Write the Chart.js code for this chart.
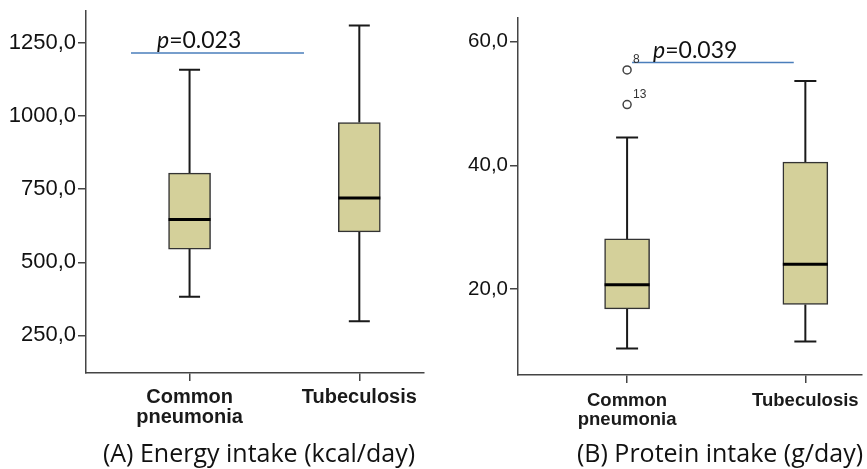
<!DOCTYPE html>
<html>
<head>
    <title>Energy and protein intake</title>
    <style>
        body { margin: 0; background: #fff; width: 867px; height: 469px; position: relative; overflow: hidden; }
        .panel { position: absolute; top: 0; height: 469px; }
        #panelA { left: 0; width: 433px; }
        #panelB { left: 440px; width: 427px; }
        .caption {
            position: absolute; top: 438px; font-family: "Open Sans", Lato, sans-serif;
            font-size: 25px; line-height: 29px; color: #111; white-space: nowrap;
            transform: translateX(-50%);
        }
    </style>
    <script src="https://cdn.jsdelivr.net/npm/chart.js"></script>
</head>
<body>
    <div class="panel" id="panelA"><canvas id="energyChart"></canvas></div>
    <div class="panel" id="panelB"><canvas id="proteinChart"></canvas></div>
    <div class="caption" style="left:259px">(A) Energy intake (kcal/day)</div>
    <div class="caption" style="left:720px">(B) Protein intake (g/day)</div>

<script>
    // data
    const categories = ["Common pneumonia", "Tubeculosis"];

    const energyMin    = [382, 298];
    const energyQ1     = [545, 604];
    const energyMedian = [646, 720];
    const energyQ3     = [805, 978];
    const energyMax    = [1159, 1310];
    const energyTicks  = [250, 500, 750, 1000, 1250];
    const energyPValue = "0.023";
    const energyPLevel = 1216;
    const energyPSpan  = [0.655, 1.674];

    const proteinMin    = [10.4, 11.5];
    const proteinQ1     = [16.8, 17.5];
    const proteinMedian = [20.7, 24.0];
    const proteinQ3     = [28.1, 40.5];
    const proteinMax    = [44.5, 53.6];
    const proteinOutlierValues = [55.4, 49.8];   // both in Common pneumonia
    const proteinOutlierCases  = ["8", "13"];
    const proteinTicks  = [20, 40, 60];
    const proteinPValue = "0.039";
    const proteinPLevel = 56.6;
    const proteinPSpan  = [1.028, 1.935];

    const boxFill = "#d4d09a";
    const darkLine = "#333";

    function boxPlugin(p) {
        return {
            id: "boxWhiskers",
            beforeDatasetsDraw(chart) {
                const { ctx, scales: { x, y } } = chart;
                ctx.save();
                ctx.strokeStyle = "#1a1a1a";
                ctx.lineWidth = 2;
                p.min.forEach((mn, i) => {
                    const px = x.getPixelForValue(i + 1);
                    ctx.beginPath();
                    ctx.moveTo(px, y.getPixelForValue(mn));
                    ctx.lineTo(px, y.getPixelForValue(p.q1[i]));
                    ctx.moveTo(px, y.getPixelForValue(p.q3[i]));
                    ctx.lineTo(px, y.getPixelForValue(p.max[i]));
                    [mn, p.max[i]].forEach(v => {
                        const py = y.getPixelForValue(v);
                        ctx.moveTo(px - p.cap / 2, py);
                        ctx.lineTo(px + p.cap / 2, py);
                    });
                    ctx.stroke();
                });
                ctx.restore();
            },
            afterDatasetsDraw(chart) {
                const { ctx, scales: { x, y } } = chart;
                ctx.save();
                // medians
                ctx.strokeStyle = "#000";
                ctx.lineWidth = 3;
                p.median.forEach((m, i) => {
                    const px = x.getPixelForValue(i + 1);
                    const py = y.getPixelForValue(m);
                    ctx.beginPath();
                    ctx.moveTo(px - p.box / 2, py);
                    ctx.lineTo(px + p.box / 2, py);
                    ctx.stroke();
                });
                // outlier case numbers
                ctx.fillStyle = "#333";
                ctx.font = "12px 'Liberation Sans'";
                ctx.textBaseline = "middle";
                (p.outliers || []).forEach((v, i) => {
                    ctx.fillText(p.cases[i], x.getPixelForValue(1) + 6, y.getPixelForValue(v) - 10);
                });
                // p value text over the line
                const tx = x.getPixelForValue(p.pSpan[0]) + p.pOffset;
                const ty = y.getPixelForValue(p.pLevel) - 5;
                ctx.textBaseline = "alphabetic";
                ctx.fillStyle = "#111";
                ctx.font = "italic 23px Lato";
                ctx.fillText("p", tx, ty);
                const w = ctx.measureText("p").width;
                ctx.font = "23px Lato";
                ctx.fillText("=" + p.pValue, tx + w, ty);
                ctx.restore();
            }
        };
    }

    function makeChart(id, p) {
        const datasets = [{
            type: "bar",
            data: p.q1.map((q, i) => ({ x: i + 1, y: [q, p.q3[i]] })),
            backgroundColor: boxFill,
            borderColor: darkLine,
            borderWidth: 1.5,
            borderSkipped: false,
            barThickness: p.box
        }, {
            type: "line",
            data: p.pSpan.map(v => ({ x: v, y: p.pLevel })),
            borderColor: "#4a7ebb",
            borderWidth: 1.5,
            pointRadius: 0
        }];
        if (p.outliers) {
            datasets.push({
                type: "scatter",
                data: p.outliers.map(v => ({ x: 1, y: v })),
                backgroundColor: "#fff",
                borderColor: "#444",
                borderWidth: 1.5,
                pointRadius: 4
            });
        }
        return new Chart(document.getElementById(id), {
            data: { datasets },
            options: {
                responsive: true,
                maintainAspectRatio: false,
                animation: false,
                layout: { padding: p.padding },
                plugins: { legend: { display: false }, tooltip: { enabled: false } },
                scales: {
                    x: {
                        type: "linear",
                        offset: false,
                        min: p.xMin, max: p.xMax,
                        afterBuildTicks: s => { s.ticks = categories.map((c, i) => ({ value: i + 1 })); },
                        afterFit: s => { s.height = p.xHeight; s.paddingLeft = 0; s.paddingRight = 0; },
                        ticks: {
                            callback: v => categories[v - 1].split(" "),
                            color: "#1a1a1a",
                            font: { family: "Liberation Sans", size: p.catSize, weight: "bold", lineHeight: 1.0 },
                            padding: p.catPad,
                            maxRotation: 0,
                            autoSkip: false
                        },
                        grid: { offset: false, drawOnChartArea: false, tickLength: 8, color: "#444", lineWidth: 1.5 },
                        border: { color: "#444", width: 1.5 }
                    },
                    y: {
                        min: p.yMin, max: p.yMax,
                        afterBuildTicks: s => { s.ticks = p.ticks.map(v => ({ value: v })); },
                        afterFit: s => { s.width = p.yWidth; s.paddingTop = 0; s.paddingBottom = 0; },
                        ticks: {
                            callback: v => v.toFixed(1).replace(".", ","),
                            color: "#111",
                            font: { family: "Liberation Sans", size: p.tickSize },
                            padding: 2
                        },
                        grid: { drawOnChartArea: false, tickLength: 8, color: "#444", lineWidth: 1.5 },
                        border: { color: "#444", width: 1.5 }
                    }
                }
            },
            plugins: [boxPlugin(p)]
        });
    }

    makeChart("energyChart", {
        min: energyMin, q1: energyQ1, median: energyMedian, q3: energyQ3, max: energyMax,
        ticks: energyTicks, pValue: energyPValue, pLevel: energyPLevel, pSpan: energyPSpan,
        yMin: 121, yMax: 1360, xMin: 0.39, xMax: 2.381,
        box: 42, cap: 21, pOffset: 26, tickSize: 22, catSize: 20, catPad: 6,
        yWidth: 86, xHeight: 96, padding: { top: 11, right: 9, left: 0, bottom: 0 }
    });

    makeChart("proteinChart", {
        min: proteinMin, q1: proteinQ1, median: proteinMedian, q3: proteinQ3, max: proteinMax,
        outliers: proteinOutlierValues, cases: proteinOutlierCases,
        ticks: proteinTicks, pValue: proteinPValue, pLevel: proteinPLevel, pSpan: proteinPSpan,
        yMin: 6.1, yMax: 63.8, xMin: 0.388, xMax: 2.315,
        box: 45, cap: 22, pOffset: 21, tickSize: 20.5, catSize: 18.5, catPad: 9,
        yWidth: 78, xHeight: 94, padding: { top: 18, right: 0, left: 0, bottom: 0 }
    });
</script>
</body>
</html>
